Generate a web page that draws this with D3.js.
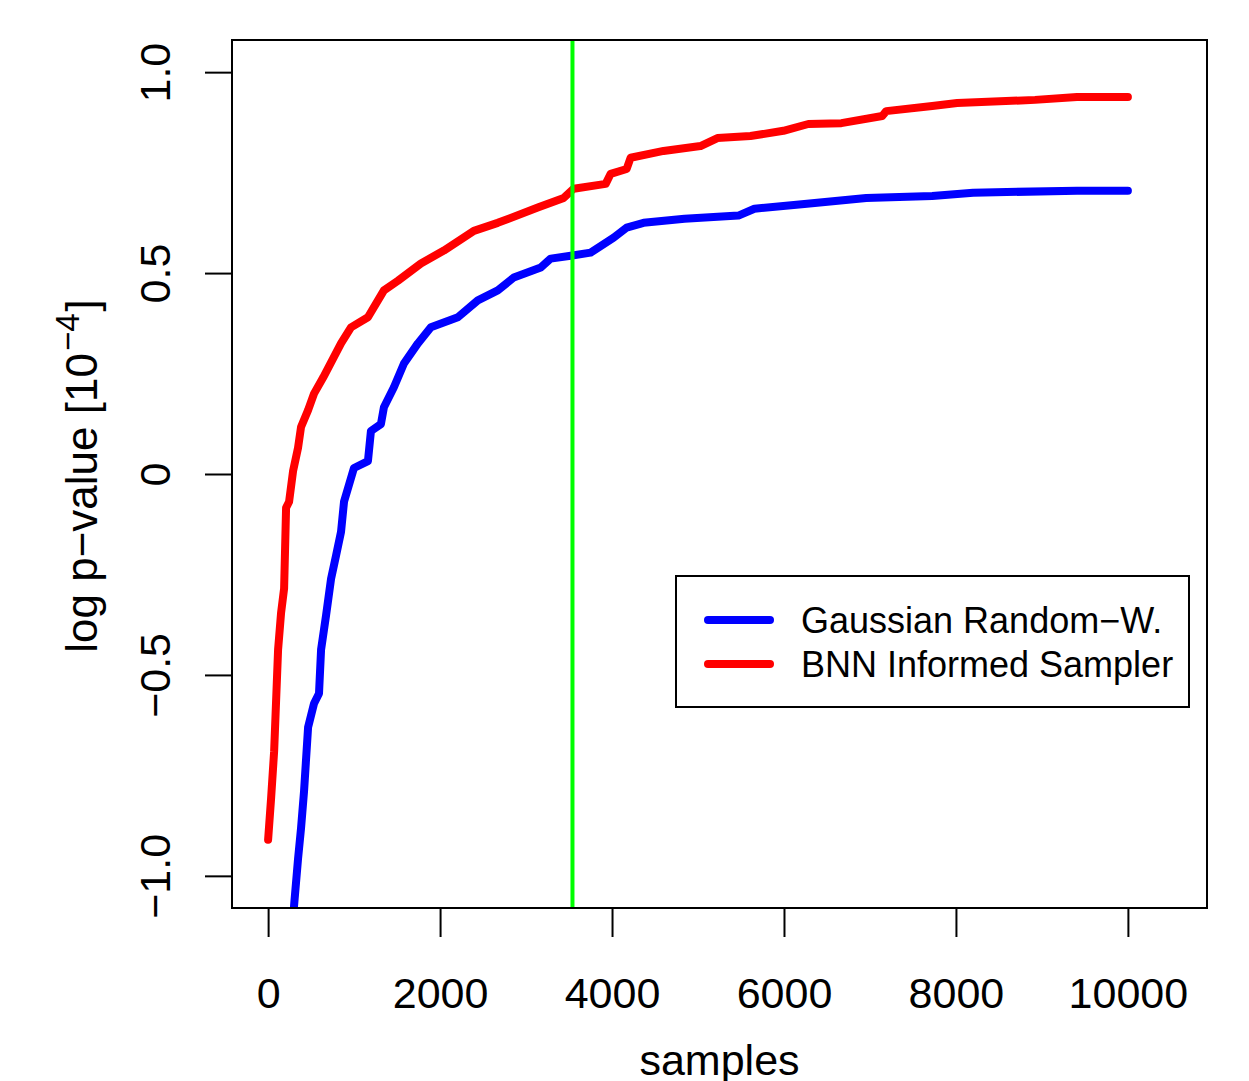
<!DOCTYPE html>
<html>
<head>
<meta charset="utf-8">
<script src="https://cdn.jsdelivr.net/npm/d3@7"></script>
<style>
  body { margin: 0; background: #fff; }
  svg text { font-family: "Liberation Sans", Arial, Helvetica, sans-serif; fill: #000; }
</style>
</head>
<body>
<svg id="chart" width="1249" height="1081"></svg>
<script>
// samples vs log p-value
const gaussSamples = [250, 302, 348, 383, 418, 465, 534, 592, 616, 674, 732, 790, 848, 883, 999, 1161, 1196, 1312, 1347, 1463,
  1580, 1742, 1893, 2207, 2439, 2671, 2857, 3171, 3287, 3519, 3751, 4019, 4170, 4367, 4843, 5470, 5656, 6237, 6957, 7724, 8200, 9408, 10000];
const gaussValues = [-1.25, -1.074, -0.958, -0.881, -0.789, -0.630, -0.571, -0.546, -0.437, -0.352, -0.261, -0.203, -0.144, -0.069, 0.015, 0.032, 0.107, 0.124, 0.166, 0.216,
  0.275, 0.325, 0.365, 0.390, 0.432, 0.457, 0.489, 0.514, 0.536, 0.543, 0.551, 0.588, 0.613, 0.625, 0.635, 0.643, 0.660, 0.672, 0.687, 0.692, 0.700, 0.705, 0.705];

const bnnSamples = [0, 35, 70, 116, 151, 186, 209, 244, 290, 348, 383, 465, 534, 640, 848, 964, 1161, 1347, 1510, 1777, 2044, 2393, 2671, 3136, 3438, 3554,
  3926, 3984, 4170, 4216, 4599, 5029, 5226, 5610, 5993, 6283, 6667, 7143, 7189, 7724, 8014, 8920, 9408, 10000];
const bnnValues = [-0.91, -0.806, -0.690, -0.437, -0.345, -0.285, -0.084, -0.069, 0.007, 0.065, 0.117, 0.159, 0.200, 0.240, 0.325, 0.365, 0.390, 0.457, 0.481, 0.524, 0.556, 0.605, 0.625, 0.663, 0.687, 0.710,
  0.722, 0.747, 0.759, 0.787, 0.804, 0.816, 0.836, 0.841, 0.854, 0.871, 0.873, 0.891, 0.903, 0.916, 0.923, 0.931, 0.938, 0.938];

const cutoff = 3540; // green vertical line
const xTicks = [0, 2000, 4000, 6000, 8000, 10000];
const yTicks = [-1, -0.5, 0, 0.5, 1];
const yTickLabels = ["\u22121.0", "\u22120.5", "0", "0.5", "1.0"];
const legendLabels = ["Gaussian Random\u2212W.", "BNN Informed Sampler"];

const plotL = 232, plotR = 1207, plotT = 40, plotB = 908;

const svg = d3.select('#chart');

const x = d3.scaleLinear().domain([-420, 10920]).range([plotL, plotR]);
const y = d3.scaleLinear().domain([-1.08, 1.08]).range([plotB, plotT]);

svg.append('clipPath').attr('id', 'plotclip')
  .append('rect')
  .attr('x', plotL).attr('y', plotT)
  .attr('width', plotR - plotL).attr('height', plotB - plotT);

const plot = svg.append('g').attr('clip-path', 'url(#plotclip)');

const line = d3.line()
  .x(d => x(d[0]))
  .y(d => y(d[1]));

const gaussData = gaussSamples.map((s, i) => [s, gaussValues[i]]);
const bnnData = bnnSamples.map((s, i) => [s, bnnValues[i]]);

plot.append('path')
  .attr('d', line(gaussData))
  .attr('fill', 'none')
  .attr('stroke', '#0000ff')
  .attr('stroke-width', 8)
  .attr('stroke-linecap', 'round')
  .attr('stroke-linejoin', 'round');

plot.append('path')
  .attr('d', line(bnnData))
  .attr('fill', 'none')
  .attr('stroke', '#ff0000')
  .attr('stroke-width', 8)
  .attr('stroke-linecap', 'round')
  .attr('stroke-linejoin', 'round');

plot.append('line')
  .attr('x1', x(cutoff)).attr('x2', x(cutoff))
  .attr('y1', plotT).attr('y2', plotB)
  .attr('stroke', '#00ff00')
  .attr('stroke-width', 4);

// frame
svg.append('rect')
  .attr('x', plotL).attr('y', plotT)
  .attr('width', plotR - plotL).attr('height', plotB - plotT)
  .attr('fill', 'none')
  .attr('stroke', '#000')
  .attr('stroke-width', 2);

// x axis
const xAxis = svg.append('g')
  .attr('transform', `translate(0, ${plotB})`)
  .call(d3.axisBottom(x).tickValues(xTicks).tickSize(29).tickPadding(40).tickFormat(d3.format('d')));
xAxis.select('.domain')
  .attr('d', `M${x(0)},0H${x(10000)}`)
  .attr('stroke-width', 2);
xAxis.selectAll('.tick line').attr('stroke-width', 2);
xAxis.selectAll('text')
  .attr('font-size', 43)
  .attr('font-family', '"Liberation Sans", Arial, sans-serif');

// y axis
const yAxis = svg.append('g')
  .attr('transform', `translate(${plotL}, 0)`)
  .call(d3.axisLeft(y).tickValues(yTicks).tickSize(27).tickFormat((d, i) => yTickLabels[i]));
yAxis.select('.domain')
  .attr('d', `M0,${y(-1)}V${y(1)}`)
  .attr('stroke-width', 2);
yAxis.selectAll('.tick line').attr('stroke-width', 2);
yAxis.selectAll('text')
  .attr('font-size', 43)
  .attr('font-family', '"Liberation Sans", Arial, sans-serif')
  .attr('x', 0).attr('dy', 0)
  .attr('text-anchor', 'middle')
  .attr('transform', 'translate(-62, 0) rotate(-90)');

// axis titles
svg.append('text')
  .attr('x', (plotL + plotR) / 2)
  .attr('y', 1075)
  .attr('text-anchor', 'middle')
  .attr('font-size', 43)
  .text('samples');

const yTitle = svg.append('text')
  .attr('transform', `translate(97, ${(plotT + plotB) / 2 + 2}) rotate(-90)`)
  .attr('text-anchor', 'middle')
  .attr('font-size', 44);
yTitle.append('tspan').text('log p\u2212value [10');
yTitle.append('tspan').attr('font-size', 33).attr('dy', -18).attr('dx', 2).text('\u22124');
yTitle.append('tspan').attr('dy', 18).attr('dx', 2).text(']');

// legend
const legend = svg.append('g').attr('transform', 'translate(676, 576)');
legend.append('rect')
  .attr('width', 513).attr('height', 131)
  .attr('fill', '#fff')
  .attr('stroke', '#000')
  .attr('stroke-width', 2);
const legendColors = ['#0000ff', '#ff0000'];
legendLabels.forEach((lab, i) => {
  const ly = 44 + i * 44;
  legend.append('line')
    .attr('x1', 32).attr('x2', 94)
    .attr('y1', ly).attr('y2', ly)
    .attr('stroke', legendColors[i])
    .attr('stroke-width', 8)
    .attr('stroke-linecap', 'round');
  legend.append('text')
    .attr('x', 125).attr('y', ly + 13)
    .attr('font-size', 36)
    .text(lab);
});
</script>
</body>
</html>
